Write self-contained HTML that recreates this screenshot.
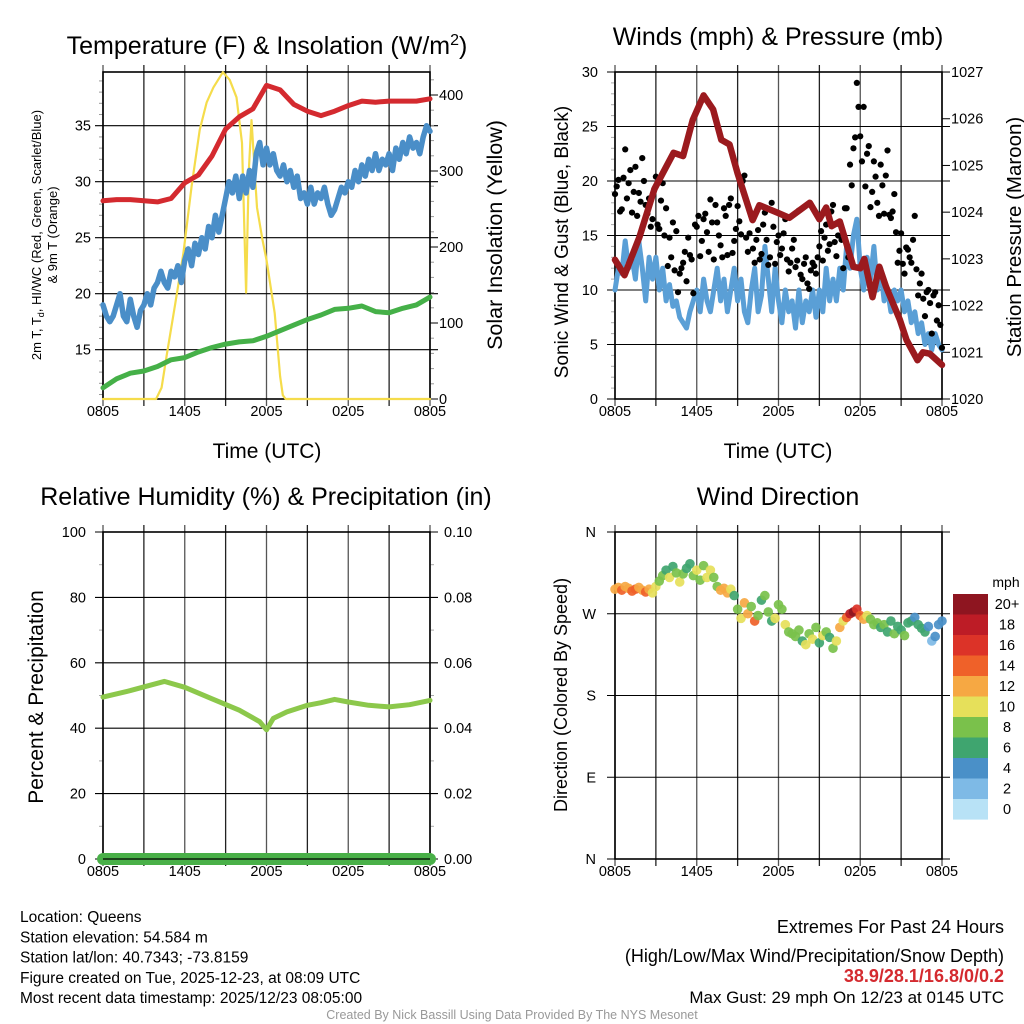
<!DOCTYPE html>
<html><head><meta charset="utf-8"><style>
html,body{margin:0;padding:0;background:#fff}
svg{display:block;font-family:"Liberation Sans",sans-serif}
</style></head><body>
<svg id="fig" width="1024" height="1024" viewBox="0 0 1024 1024" xmlns="http://www.w3.org/2000/svg">
<g id="layer"></g>
</svg>
<script>
// ---- data (hour offsets from 0805 UTC) ----
const xTickLabels = ["0805","1405","2005","0205","0805"];
const tempTickVals = [15,20,25,30,35];
const solarTickVals = [0,100,200,300,400];
const windTickVals = [0,5,10,15,20,25,30];
const presTickVals = [1020,1021,1022,1023,1024,1025,1026,1027];
const rhTickVals = [0,20,40,60,80,100];
const precipTickLabels = ["0.00","0.02","0.04","0.06","0.08","0.10"];
const dirTickLabels = ["N","E","S","W","N"];
const dirTickVals = [0,90,180,270,360];

const hiwcVals = [28.3,28.4,28.4,28.3,28.2,28.5,29.9,30.6,32.3,34.7,35.8,36.5,38.6,38.2,36.9,36.3,35.9,36.3,36.8,37.2,37.1,37.2,37.2,37.2,37.4];
const tempVals = [19,18,17.5,18,19,20,18,17.5,19.5,18,17,18.5,
 19,20,19,20.5,21,22,21,20.5,22,21.5,22.5,21,
 23,24,22.5,24.5,23.5,25,24,26,25,27,25.5,27,
 28.5,30,29,30.5,28.5,30.5,29,31,29.5,32.5,33.5,31.5,
 33,31.5,32.5,31,30.5,31.5,30,31,29.5,30.5,28.5,29,
 28,29.5,28,29,28.5,29.5,28,27,27.5,28.5,29.5,29,
 30,29.5,31,30,31.5,30.5,32,31,32.5,31,32,31.5,
 32.5,31,33,32,33.5,32.5,34,33,33.5,32.5,34,35,34.5];
const dewVals = [11.6,12.4,12.9,13.1,13.5,14.1,14.3,14.8,15.2,15.5,15.7,15.8,16.2,16.7,17.2,17.7,18.1,18.6,18.7,18.9,18.4,18.3,18.7,19,19.7];
const solarHours = [0,3.9,4.3,4.7,5.3,5.9,6.5,7.1,7.6,8.1,8.8,9.3,9.8,10.2,10.5,10.7,10.9,11.3,11.7,12,12.6,13,13.2,13.4,24];
const solarVals = [0,0,15,60,125,192,280,354,390,410,430,420,397,337,140,300,367,252,210,183,113,30,5,0,0];

const windVals = [10,12,11.5,14.5,12,13,11,14.5,12,9,13,11,
 13,10,12,9,10.5,8.5,9,7.5,7,6.5,8,9,
 10,8,11,9,8,10,12,9,11,8,10,12,
 9,11,8,7,10,12,8,9.5,14,11,8,12,
 9,7,10,8,9,6.5,10,7,9,8,10,7.5,
 10,8,12,9,11,9,12,10,14,12,15,16.5,
 12,10,13,11,14,10,12,9,10,8,10,9,
 10,8,9,7,8,6,7,5,6,4.5,6,5,4.5];
const gustVals = [18.8,20.1,17.4,22.9,19.8,17.1,21.3,18.9,22.1,17.8,18.4,16.5,
 20.4,15.6,19.8,17.5,14.8,16.2,15.4,11.5,12.5,10.8,13.2,9.7,
 15.8,13.1,16.5,15.3,18.3,12.8,16.2,14.1,17.5,13.2,18.4,14.5,
 17.7,15.1,20.5,13.5,16.8,12.5,15.5,13.3,17.1,12.3,18.0,12.4,
 15.0,13.8,16.5,11.7,13.8,12.1,17.3,11.0,13.0,10.1,12.5,11.5,
 14.0,12.7,16.0,14.2,17.8,13.1,16.0,12.0,17.5,21.5,23.0,29.0,
 24.1,26.8,22.5,17.6,21.8,18.0,21.5,17.0,22.8,16.6,18.8,12.5,
 15.2,11.5,13.7,12.5,16.8,9.5,11.5,7.6,10.0,6.0,9.8,8.6,4.7];
const gustVals2 = [19.5,17.2,20.3,18.4,21.0,19.0,16.8,18.1,20.0,17.0,15.8,19.2,
 16.0,18.2,15.0,12.2,13.0,11.8,9.8,12.0,13.5,14.8,12.8,16.0,
 16.8,14.5,17.0,13.5,16.2,17.8,15.0,13.0,16.8,17.8,13.4,15.6,
 16.3,20.0,14.8,15.2,13.8,14.6,12.8,16.0,14.6,13.0,15.8,14.4,
 13.2,15.2,12.8,12.5,14.6,12.7,11.4,12.4,10.6,11.8,12.2,13.0,
 15.4,14.8,13.6,17.2,14.4,15.0,14.6,17.5,13.0,19.6,24.0,26.8,
 21.8,19.5,23.2,19.0,20.4,16.8,19.6,20.5,16.9,17.2,15.3,13.6,
 12.4,13.9,13.0,14.6,11.9,10.6,9.2,9.8,8.8,9.5,7.2,6.8];
const presHours = [0,0.7,1.8,2.9,4.3,5,5.7,6.5,7.2,7.8,8.4,9,10.1,10.6,12,12.8,14.3,15,15.5,15.9,16.5,17.5,18,18.3,18.9,19.4,19.9,20.9,21.4,22.2,22.6,23.1,24];
const presVals = [1022.98,1022.65,1023.47,1024.5,1025.27,1025.2,1025.97,1026.5,1026.2,1025.55,1025.45,1024.83,1023.83,1024.15,1023.98,1023.88,1024.2,1023.85,1024.1,1023.7,1023.8,1022.83,1022.8,1023.0,1022.18,1022.83,1022.4,1021.7,1021.26,1020.83,1021.0,1020.97,1020.73];

const rhHours = [0,2,4.5,6,8,10,11.5,12,12.5,13.5,15,16,17,18,19.5,21,22.5,24];
const rhVals = [49.5,51.5,54.3,52.5,49,45.5,42,39.5,43,45,47,47.8,48.8,48,47,46.5,47.2,48.5];
const precipVals = [0,0];

const dirVals = [297,299,296,300,298,295,297,299,296,294,297,293,
 300,306,312,318,310,322,315,305,314,320,325,312,318,307,323,310,
 318,310,300,296,298,293,297,290,
 275,265,282,270,278,262,268,285,290,272,262,265,280,275,
 258,250,248,245,252,240,236,248,242,255,238,246,250,244,232,240,255,262,
 266,270,272,275,268,264,
 268,264,258,260,255,258,250,262,248,256,252,246,260,262,266,258,254,250,256,240,245,258,262];
const spdVals = [12,13,14,12,13,14,15,12,13,14,12,10,
 10,9,8,6,10,7,8,10,9,6,7,8,10,8,9,10,
 10,9,8,12,12,13,10,7,
 8,10,12,13,9,14,8,7,8,8,6,10,8,9,
 10,8,8,9,8,7,10,8,11,9,7,10,8,7,8,10,12,11,
 14,19,20,16,15,12,
 10,8,9,8,7,8,7,6,8,6,7,8,6,6,5,6,7,6,4,3,4,5,4];
const cbarLabels = ["20+","18","16","14","12","10","8","6","4","2","0"];
const cbarColors = ["#8e1520","#bd1c26","#dc3328","#ef6129","#f6a843","#e6e05a","#7ac14b","#3fa56f","#4a90c8","#7ebae6","#b8e2f6"];

// ---- helpers ----
const NS="http://www.w3.org/2000/svg";
const layer=document.getElementById('layer');
function mk(tag,attrs,parent){const e=document.createElementNS(NS,tag);for(const k in attrs)e.setAttribute(k,attrs[k]);(parent||layer).appendChild(e);return e;}
function txt(s,x,y,size,anchor,parent,extra){const e=mk('text',Object.assign({x:x,y:y,'font-size':size,'text-anchor':anchor||'middle',fill:'#000'},extra||{}),parent);e.textContent=s;return e;}
const W=327;
function xsF(x0){return h=>x0+h/24*W;}
function poly(pts,stroke,sw,parent){return mk('polyline',{points:pts.map(p=>p[0].toFixed(1)+','+p[1].toFixed(1)).join(' '),fill:'none',stroke:stroke,'stroke-width':sw,'stroke-linejoin':'round','stroke-linecap':'round'},parent);}

function frame(x0,y0,name){
  const g=mk('g',{});
  
  
  const xs=xsF(x0);
  for(let i=0;i<=8;i++){const x=xs(i*3);mk('line',{x1:x,x2:x,y1:y0-7,y2:y0+W+7,stroke:(i%2?'#222':'#555'),'stroke-width':1.3},g);}
  for(let i=0;i<5;i++){const t=txt(xTickLabels[i],xs(i*6),y0+W+17,14.5,'middle',g);}
  return {g,xs};
}
function hgrid(g,x0,y,){mk('line',{x1:x0-8,x2:x0+W+8,y1:y,y2:y,stroke:'#000','stroke-width':1.1},g);}
function box(g,x0,y0){mk('rect',{x:x0,y:y0,width:W,height:W,fill:'none',stroke:'#000','stroke-width':1.6},g);}

// ===== Panel 1 =====
(function(){
 const x0=103,y0=72;const {g,xs}=frame(x0,y0,'temperature-panel');
 const yT=v=>399-(v-10.6)*11.2, yS=v=>399-v*0.76;
 tempTickVals.forEach(v=>{hgrid(g,x0,yT(v));txt(String(v),x0-12,yT(v)+5,14.5,'end',g);});
 for(let v=11;v<=39;v++){if(v%5)mk('line',{x1:x0-4,x2:x0,y1:yT(v),y2:yT(v),stroke:'#999'},g);}
 for(let v=0;v<=420;v+=20){mk('line',{x1:x0+W,x2:x0+W+(v%100?4:8),y1:yS(v),y2:yS(v),stroke:v%100?'#999':'#000'},g);}
 solarTickVals.forEach(v=>txt(String(v),x0+W+9,yS(v)+5,14.5,'start',g));
 box(g,x0,y0);
 const s=poly(solarHours.map((h,i)=>[xs(h),yS(solarVals[i])]),'#f5dc4b',2.2,g);
 
 const d=poly(dewVals.map((v,i)=>[xs(i),yT(v)]),'#45b048',5,g);
 
 const t=poly(tempVals.map((v,i)=>[xs(i*0.25),yT(v)]),'#4a8ec8',5.5,g);
 
 const r=poly(hiwcVals.map((v,i)=>[xs(i),yT(v)]),'#d42a2f',5,g);
 
 const ti=txt('',267,54,25,'middle',g);ti.innerHTML='Temperature (F) &amp; Insolation (W/m<tspan dy="-9" font-size="16">2</tspan><tspan dy="9">)</tspan>';
 
 const xl=txt('Time (UTC)',267,458,21,'middle',g);
 const yl=txt('',0,0,13,'middle',g,{transform:'translate(41,235) rotate(-90)'});
 yl.innerHTML='2m T, T<tspan font-size="9" dy="3">d</tspan><tspan dy="-3">, HI/WC (Red, Green, Scarlet/Blue)</tspan>';
 
 const yl2=txt('& 9m T (Orange)',0,0,13,'middle',g,{transform:'translate(57,235) rotate(-90)'});
 
 const yr=txt('Solar Insolation (Yellow)',0,0,21.5,'middle',g,{transform:'translate(502,235) rotate(-90)'});
 
})();

// ===== Panel 2 =====
(function(){
 const x0=615,y0=72;const {g,xs}=frame(x0,y0,'wind-pressure-panel');
 const yW=v=>399-v*10.9, yP=p=>399-(p-1020)*46.71;
 windTickVals.forEach(v=>{hgrid(g,x0,yW(v));txt(String(v),x0-17,yW(v)+5,14.5,'end',g);});
 for(let v=1;v<30;v++){if(v%5)mk('line',{x1:x0-4,x2:x0,y1:yW(v),y2:yW(v),stroke:'#aaa'},g);}
 presTickVals.forEach(v=>{mk('line',{x1:x0+W,x2:x0+W+8,y1:yP(v),y2:yP(v),stroke:'#000'},g);txt(String(v),x0+W+9,yP(v)+5,14.5,'start',g);});
 box(g,x0,y0);
 const w=poly(windVals.map((v,i)=>[xs(i*0.25),yW(v)]),'#5a9fd6',5,g);
 
 gustVals.forEach((v,i)=>{const c=mk('circle',{cx:xs(i*0.25),cy:yW(v),r:3.1,fill:'#000'},g);
  
  });
 gustVals2.forEach((v,i)=>{const c=mk('circle',{cx:xs(i*0.25+0.125),cy:yW(v),r:3.1,fill:'#000'},g);
  
  });
 const p=poly(presHours.map((h,i)=>[xs(h),yP(presVals[i])]),'#9b1a1e',6.5,g);
 
 const ti=txt('Winds (mph) & Pressure (mb)',778,45,25,'middle',g);
 const xl=txt('Time (UTC)',778,458,21,'middle',g);
 const yl=txt('Sonic Wind & Gust (Blue, Black)',0,0,19,'middle',g,{transform:'translate(568,242) rotate(-90)'});
 
 const yr=txt('Station Pressure (Maroon)',0,0,20.5,'middle',g,{transform:'translate(1021,237) rotate(-90)'});
 
})();

// ===== Panel 3 =====
(function(){
 const x0=103,y0=532;const {g,xs}=frame(x0,y0,'humidity-precip-panel');
 const yR=v=>859-v*3.27;
 rhTickVals.forEach((v,i)=>{hgrid(g,x0,yR(v));txt(String(v),x0-17,yR(v)+5,14.5,'end',g);txt(precipTickLabels[i],x0+W+14,yR(v)+5,14.5,'start',g);});
 for(let v=10;v<100;v+=20){mk('line',{x1:x0-4,x2:x0,y1:yR(v),y2:yR(v),stroke:'#aaa'},g);mk('line',{x1:x0+W,x2:x0+W+4,y1:yR(v),y2:yR(v),stroke:'#aaa'},g);}
 box(g,x0,y0);
 const r=poly(rhHours.map((h,i)=>[xs(h),yR(rhVals[i])]),'#8cc84b',5,g);
 
 const p=poly(precipVals.map((v,i)=>[xs(i*24),yR(v*1000)]),'#49b048',12,g);
 
 mk('line',{x1:x0,x2:x0+W,y1:859,y2:859,stroke:'#000','stroke-width':1.2},g);
 const ti=txt('Relative Humidity (%) & Precipitation (in)',266,505,25,'middle',g);
 const yl=txt('Percent & Precipitation',0,0,21,'middle',g,{transform:'translate(43,697) rotate(-90)'});
 
})();

// ===== Panel 4 =====
(function(){
 const x0=615,y0=532;const {g,xs}=frame(x0,y0,'wind-direction-panel');
 const yD=d=>859-d*0.9083;
 dirTickVals.forEach((v,i)=>{hgrid(g,x0,yD(v));txt(dirTickLabels[i],x0-19,yD(v)+5,14.5,'end',g);});
 box(g,x0,y0);
 function colFor(s){let k=Math.min(10,Math.floor(s/2));if(s>=20)k=10;return cbarColors[10-k];}
 dirVals.forEach((d,i)=>{const c=mk('circle',{cx:xs(i*0.25),cy:yD(d),r:4.8,fill:colFor(spdVals[i]),opacity:0.92},g);
  
  });
 const ti=txt('Wind Direction',778,505,25,'middle',g);
 const yl=txt('Direction (Colored By Speed)',0,0,18,'middle',g,{transform:'translate(567,695) rotate(-90)'});
 
 const cb=mk('g',{});
 
 
 txt('mph',1006,587,14,'middle',cb);
 cbarColors.forEach((c,i)=>{mk('rect',{x:953,y:594+i*20.5,width:35,height:20.6,fill:c},cb);txt(cbarLabels[i],1007,609+i*20.5,14.5,'middle',cb);});
})();

// ===== Footer =====
(function(){
 const g=mk('g',{});
 
 
 ["Location: Queens","Station elevation: 54.584 m","Station lat/lon: 40.7343; -73.8159","Figure created on Tue, 2025-12-23, at 08:09 UTC","Most recent data timestamp: 2025/12/23 08:05:00"].forEach((s,i)=>txt(s,20,922+i*20.3,15.5,'start',g));
 const e=mk('g',{});
 
 
 txt('Extremes For Past 24 Hours',1004,933,18,'end',e);
 txt('(High/Low/Max Wind/Precipitation/Snow Depth)',1004,962,18,'end',e);
 txt('38.9/28.1/16.8/0/0.2',1004,982,18,'end',e,{fill:'#d42a2f','font-weight':'bold'});
 txt('Max Gust: 29 mph On 12/23 at 0145 UTC',1004,1003,17,'end',e);
 const c=txt('Created By Nick Bassill Using Data Provided By The NYS Mesonet',512,1019,12.5,'middle',null,{fill:'#999'});
 
})();
</script>
</body></html>
